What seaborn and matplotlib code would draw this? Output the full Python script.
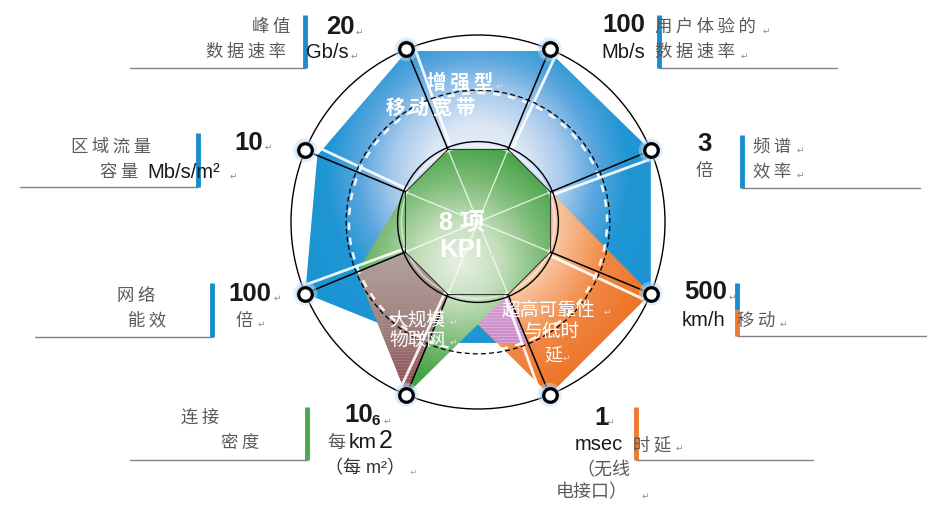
import numpy as np
import pandas as pd
import matplotlib
matplotlib.use("Agg")
import matplotlib.pyplot as plt
import seaborn as sns
from matplotlib.patches import Polygon, Circle
from matplotlib.colors import to_rgb

# 8 KPI axes, clockwise starting from the top-left node
axis_names = ["峰值数据速率", "用户体验的数据速率", "频谱效率", "移动", "时延", "连接密度", "网络能效", "区域流量容量"]
axis_angles = [112.5, 67.5, 22.5, -22.5, -67.5, -112.5, -157.5, 157.5]
kpi_values = ["20", "100", "3", "500", "1", "10", "100", "10"]

# reach of each usage scenario on every axis (1 = outer ring)
embb = [0.99, 0.99, 1.0, 1.0, 0.70, 0.70, 1.0, 0.93]
urllc = [0.42, 0.42, 0.42, 1.0, 1.0, 0.42, 0.42, 0.42]
mmtc = [0.42, 0.42, 0.42, 0.42, 0.42, 1.0, 0.70, 0.42]
ring_levels = [0.43, 0.705, 1.0]

sns.set_theme(style="white")
CJK = ["Noto Sans CJK SC", "DejaVu Sans"]
NUM = ["Liberation Sans", "Noto Sans CJK SC", "DejaVu Sans"]
plt.rcParams["font.family"] = CJK

W, H = 928, 507
CX, CY, R = 478, 222, 187

fig = plt.figure(figsize=(9.28, 5.07), dpi=100)
ax = fig.add_axes([0, 0, 1, 1])


def polar(vals, shift=0.0):
    a = np.deg2rad(np.asarray(axis_angles) + shift)
    v = np.asarray(vals, dtype=float)
    return np.column_stack([CX + R * v * np.cos(a), CY - R * v * np.sin(a)])


yy, xx = np.mgrid[0:H, 0:W] + 0.5


def grad_fill(verts, dist, stops, z, stripe=None):
    rs = [s[0] for s in stops]
    cols = np.array([to_rgb(s[1]) for s in stops])
    img = np.stack([np.interp(dist, rs, cols[:, k]) for k in range(3)], axis=-1)
    if stripe is not None:
        m = (yy.astype(int) % 3) == 0
        img[m] = img[m] * (1 - stripe[1]) + np.array(to_rgb(stripe[0])) * stripe[1]
    patch = Polygon(verts, closed=True, facecolor="none", edgecolor="none")
    ax.add_patch(patch)
    im = ax.imshow(img, extent=(0, W, H, 0), zorder=z, interpolation="bilinear")
    im.set_clip_path(patch)


def cut_at(p, q, ycut):
    t = (ycut - p[1]) / (q[1] - p[1])
    return p + t * (q - p)


blue_xy = polar(embb)
orange_xy = polar(urllc)
green_xy = polar(mmtc)
inner = polar([min(mmtc)] * 8)
nodes = polar([1.0] * 8)

# eMBB
grad_fill(blue_xy, np.hypot(xx - CX, yy - 175),
          [(0, "#f0f4fb"), (50, "#dce7f5"), (85, "#a8caec"), (118, "#5aa6de"),
           (150, "#2196d4"), (260, "#1090d0")], 1)
# URLLC
grad_fill(orange_xy, np.hypot(xx - CX, yy - CY),
          [(0, "#fbdcc4"), (80, "#f8c6a0"), (105, "#f5a872"), (135, "#f08644"), (190, "#ec7020")], 2)
# tinted part of URLLC where it lies over the eMBB area (latency / density sector)
yb = blue_xy[4, 1]
pink_xy = [orange_xy[5], inner[4], cut_at(inner[4], orange_xy[4], yb), cut_at(orange_xy[5], orange_xy[4], yb)]
grad_fill(pink_xy, yy, [(290, "#d8a4d0"), (345, "#c688cc")], 2.1, stripe=("#ecc4e4", 0.5))
# mMTC
grad_fill(green_xy, np.hypot(xx - 460, yy - 262),
          [(0, "#e8f0e4"), (40, "#c4dfbc"), (80, "#80bd7a"), (120, "#46a246"), (220, "#3a9a3a")], 3)
grad_fill([green_xy[6], green_xy[5], inner[5], inner[6]], yy,
          [(260, "#aea296"), (330, "#9c8078"), (395, "#8a4848")], 3.1, stripe=("#c08ab8", 0.35))

# rings
ax.add_patch(Circle((CX, CY), R * ring_levels[2], fill=False, ec="black", lw=1.0, zorder=6))
ax.add_patch(Circle((CX, CY), R * (ring_levels[1] - 0.015), fill=False, ec="white", lw=1.8,
                    ls=(0, (3, 3)), alpha=0.9, zorder=5))
ax.add_patch(Circle((CX, CY), R * ring_levels[1], fill=False, ec="black", lw=0.9,
                    ls=(0, (4, 2.5)), zorder=6))
ax.add_patch(Circle((CX, CY), R * (ring_levels[0] - 0.02), fill=False, ec="white", lw=1.0,
                    alpha=0.6, zorder=5))
ax.add_patch(Circle((CX, CY), R * ring_levels[0], fill=False, ec="black", lw=1.0, zorder=6))
ax.add_patch(Polygon(inner, closed=True, fill=False, ec="#333333", lw=0.8, zorder=6))

# spokes
w_in = polar([min(mmtc)] * 8, shift=-2.5)
w_out = polar([0.97] * 8, shift=-2.5)
for k in range(8):
    ax.plot([CX, inner[k, 0]], [CY, inner[k, 1]], color="white", lw=1.0, alpha=0.75, zorder=4)
    ax.plot([w_in[k, 0], w_out[k, 0]], [w_in[k, 1], w_out[k, 1]], color="white", lw=2.0,
            alpha=0.9, zorder=4.5)
    ax.plot([inner[k, 0], nodes[k, 0]], [inner[k, 1], nodes[k, 1]], color="black", lw=1.1, zorder=6)

# nodes with glow
node_df = pd.DataFrame({"x": nodes[:, 0], "y": nodes[:, 1], "kpi": axis_names})
sns.scatterplot(data=node_df, x="x", y="y", s=300, color="#c0dbf4", alpha=0.45,
                edgecolor="none", ax=ax, zorder=7, legend=False)
sns.scatterplot(data=node_df, x="x", y="y", s=175, color="#9cc6ee", alpha=0.6,
                edgecolor="none", ax=ax, zorder=7, legend=False)
sns.scatterplot(data=node_df, x="x", y="y", s=95, color="white", edgecolor="black",
                linewidth=2.3, ax=ax, zorder=8, legend=False)

GRAY = "#5a5a5a"
DARK = "#1a1a1a"
BLUE, ORANGE, GREEN = "#1a8dcf", "#ee7b2e", "#4ea64e"


def sp(s):
    return "\u2009".join(s)


def txt(x, y, s, size=12.5, color=GRAY, ha="left", weight="normal", family=CJK):
    ax.text(x, y, s, fontsize=size, color=color, ha=ha, va="center",
            fontweight=weight, family=family, zorder=10)


def num(x, y, s, size=18.5, ha="left", color=DARK):
    txt(x, y, s, size=size, color=color, ha=ha, weight="bold", family=NUM)


def mark(x, y, color="#8a8a8a"):
    txt(x, y, "\u21b5", size=6.5, color=color, family=["DejaVu Sans"])


def bar(x, y0, y1, color):
    ax.plot([x, x], [y0, y1], color=color, lw=3.5, solid_capstyle="butt", zorder=9)


def rule(x0, x1, y):
    ax.plot([x0, x1], [y, y], color="#808080", lw=1.0, zorder=9)


U = 14.5  # unit font size

# 峰值数据速率
txt(290, 27, sp("峰值"), ha="right")
txt(286, 52, sp("数据速率"), ha="right")
rule(130, 305, 68)
bar(305, 15, 68, BLUE)
num(326, 27, kpi_values[0])
mark(356, 32)
txt(306, 53, "Gb/s", size=U, color=DARK, family=NUM)
mark(351, 56)

# 用户体验的数据速率
num(602, 25, kpi_values[1])
txt(601, 52, "Mb/s", size=U, color=DARK, family=NUM)
txt(655, 27, sp("用户体验的"))
mark(763, 31)
txt(655, 52, sp("数据速率"))
mark(741, 56)
rule(659, 837, 68)
bar(659, 15, 68, BLUE)

# 频谱效率
num(697, 144, kpi_values[2])
txt(696, 171, "倍")
bar(742, 135, 188, BLUE)
rule(742, 920, 188)
txt(753, 147, sp("频谱"))
mark(797, 150)
txt(753, 172, sp("效率"))
mark(797, 175)

# 移动
num(684, 292, kpi_values[3])
mark(729, 297)
txt(682, 320, "km/h", size=U, color=DARK, family=NUM)
rule(737, 928, 336)
bar(737, 283, 310, BLUE)
bar(737, 310, 336, ORANGE)
txt(737, 321, sp("移动"))
mark(780, 324)

# 时延
num(594, 418, kpi_values[4])
mark(607, 422)
txt(575, 445, "msec", size=U, color=DARK, family=NUM)
rule(636, 813, 460)
bar(636, 407, 460, ORANGE)
txt(633, 445, sp("时延"))
mark(676, 448)
txt(576, 470, "（无线", size=13)
txt(556, 492, "电接口）", size=13)
mark(642, 496)

# 连接密度
txt(181, 418, sp("连接"))
txt(221, 443, sp("密度"))
rule(130, 307, 460)
bar(307, 407, 460, GREEN)
num(344, 415, kpi_values[5])
num(372, 421, "6", size=11)
mark(384, 421)
txt(327, 443, "每", size=13)
txt(349, 443, "km", size=15, color=DARK, family=NUM)
txt(379, 441, "2", size=18, color=DARK, family=NUM)
txt(325, 469, "（每 m²）", size=13, color="#333333", family=NUM)
mark(410, 472, color="#aaaaaa")

# 网络能效
txt(117, 296, sp("网络"))
txt(128, 320, sp("能效"))
rule(35, 212, 337)
bar(212, 283, 337, BLUE)
num(228, 294, kpi_values[6])
mark(274, 298)
txt(236, 321, "倍")
mark(258, 324)

# 区域流量容量
txt(71, 147, sp("区域流量"))
txt(100, 172, sp("容量"))
txt(147, 172, "Mb/s/m²", size=U, color=DARK, family=NUM)
mark(230, 176)
rule(20, 198, 187)
bar(198, 133, 187, BLUE)
num(234, 143, kpi_values[7])
mark(265, 147)

# scenario labels
WH = "white"
txt(427, 83, sp("增强型"), size=14, color=WH, weight="bold")
mark(496, 86, color="#d0d8e8")
txt(386, 108, sp("移动宽带"), size=14, color=WH, weight="bold")
mark(476, 111, color="#d0d8e8")
num(439, 223, "8 项", size=18, color=WH)
num(439, 250, "KPI", size=18.5, color=WH)
mark(486, 256, color="#c8d8c8")
txt(389, 320, "大规模", size=13.5, color=WH)
mark(450, 322, color="#e0e0e0")
txt(389, 340, "物联网", size=13.5, color=WH)
mark(450, 342, color="#e0e0e0")
txt(502, 310, "超高可靠性", size=13.5, color=WH)
mark(604, 312, color="#f0d8c8")
txt(524, 331, "与低时", size=13.5, color=WH)
txt(544, 355, "延", size=13, color=WH)
mark(563, 358, color="#f0d8c8")

ax.set_xlim(0, W)
ax.set_ylim(H, 0)
ax.set_aspect("auto")
ax.axis("off")
fig.savefig("out.png", dpi=100, facecolor="white")
